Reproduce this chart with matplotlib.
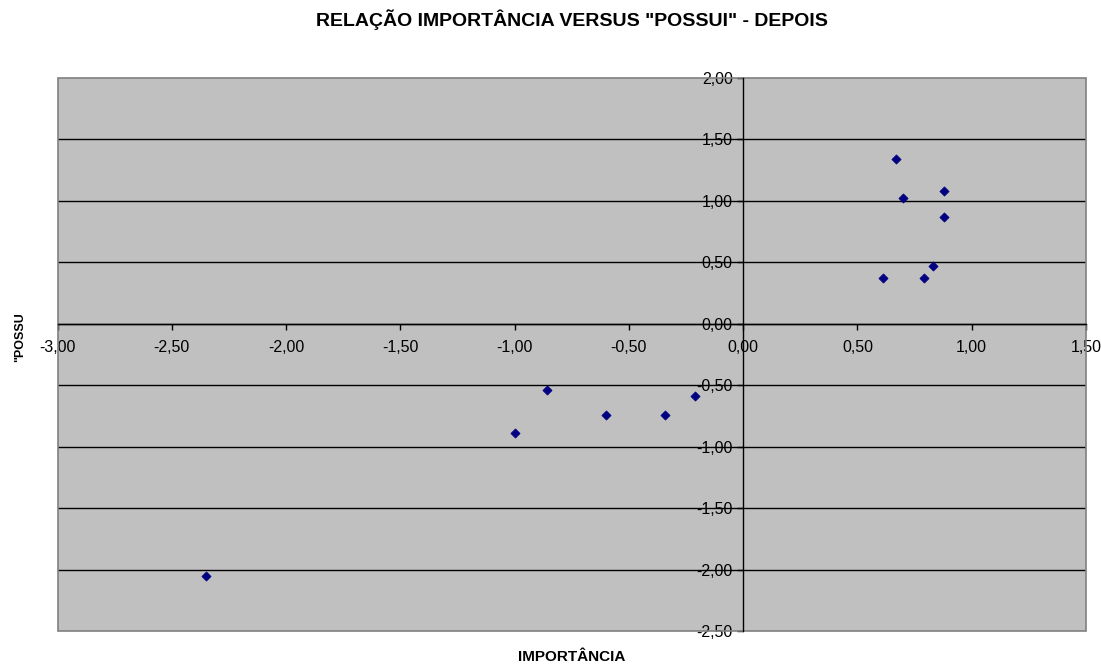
import matplotlib
matplotlib.use("Agg")
import matplotlib.pyplot as plt
from matplotlib.patches import Rectangle
from matplotlib.ticker import FixedLocator, FuncFormatter

# Importance (x) vs. "possui" (y) scores, after
importancia = [0.67, 0.70, 0.88, 0.88, 0.61, 0.79, 0.83,
               -1.00, -0.86, -0.60, -0.34, -0.21, -2.35]
possui = [1.34, 1.02, 1.08, 0.87, 0.37, 0.37, 0.47,
          -0.89, -0.54, -0.74, -0.74, -0.59, -2.05]

x_ticks = [-3.0, -2.5, -2.0, -1.5, -1.0, -0.5, 0.0, 0.5, 1.0, 1.5]
y_ticks = [2.0, 1.5, 1.0, 0.5, 0.0, -0.5, -1.0, -1.5, -2.0, -2.5]

title = 'RELAÇÃO IMPORTÂNCIA VERSUS "POSSUI" - DEPOIS'
x_label = "IMPORTÂNCIA"
y_label = '"POSSU'

plt.rcParams["font.family"] = ["Liberation Sans", "DejaVu Sans"]

W, H = 1101, 666
fig = plt.figure(figsize=(W / 100, H / 100), dpi=100)
fig.patch.set_facecolor("white")
left, right, top, bottom = 57.5, 1086, 78, 631
ax = fig.add_axes([left / W, 1 - bottom / H, (right - left) / W, (bottom - top) / H])
ax.set_facecolor("#C0C0C0")
ax.set_xlim(-3.0, 1.5)
ax.set_ylim(-2.5, 2.0)

# horizontal gridlines
for yv in y_ticks:
    if -2.5 < yv < 2.0:
        ax.axhline(yv, color="black", lw=1.0, zorder=1)

# plot-area border
ax.add_patch(Rectangle((0, 0), 1, 1, transform=ax.transAxes, fill=False,
                       edgecolor="#808080", lw=1.2, zorder=2, clip_on=False))

# axes crossing at the origin
for s in ["top", "right"]:
    ax.spines[s].set_visible(False)
ax.spines["left"].set_position(("data", 0))
ax.spines["bottom"].set_position(("data", 0))
for s in ["left", "bottom"]:
    ax.spines[s].set_color("black")
    ax.spines[s].set_linewidth(1.0)
    ax.spines[s].set_zorder(3)

fmt = FuncFormatter(lambda v, p: f"{v:.2f}".replace(".", ",").replace("-0,00", "0,00"))
ax.xaxis.set_major_locator(FixedLocator(x_ticks))
ax.yaxis.set_major_locator(FixedLocator(y_ticks))
ax.xaxis.set_major_formatter(fmt)
ax.yaxis.set_major_formatter(fmt)
ax.tick_params(axis="both", direction="out", length=4, width=1, color="black",
               labelsize=11.5)
ax.tick_params(axis="x", pad=8)
ax.tick_params(axis="y", pad=3.5)

ax.scatter(importancia, possui, marker="D", s=22, color="#000080",
           edgecolors="#000080", linewidths=0.5, zorder=4)

fig.text(0.5 * (left + right) / W, 1 - 20 / H, title, ha="center", va="center",
         fontsize=14, fontweight="bold")
fig.text(0.5 * (left + right) / W, 1 - 657 / H, x_label, ha="center", va="center",
         fontsize=11, fontweight="bold")
fig.text(20 / W, 1 - 337 / H, y_label, ha="center", va="center", rotation=90,
         fontsize=9, fontweight="bold")

fig.savefig("out.png", dpi=100)
